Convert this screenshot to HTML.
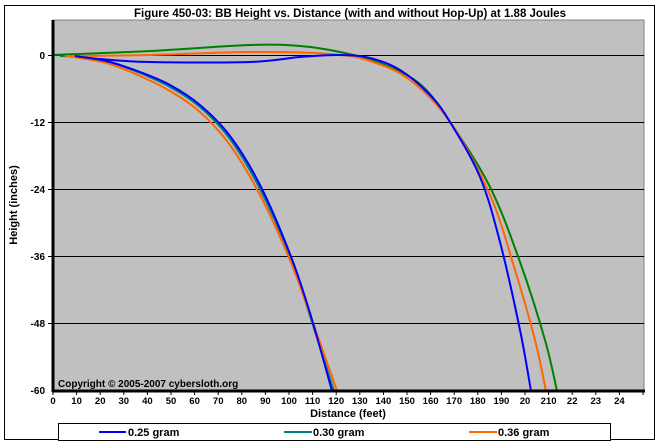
<!DOCTYPE html>
<html><head><meta charset="utf-8"><style>
html,body{margin:0;padding:0;background:#fff;}
svg{display:block;}
text{font-family:"Liberation Sans",sans-serif;font-weight:bold;fill:#000;}
</style></head><body>
<svg id="s" width="658" height="445" viewBox="0 0 658 445" xmlns="http://www.w3.org/2000/svg">
<rect x="4.5" y="5.5" width="650" height="434" fill="#fff" stroke="#000" stroke-width="1"/>
<text x="350" y="17" font-size="11.5" text-anchor="middle">Figure 450-03:  BB Height vs. Distance (with and without Hop-Up) at 1.88 Joules</text>
<rect x="53" y="20" width="591" height="371" fill="#c0c0c0" stroke="#808080" stroke-width="1"/>
<g stroke="#000" stroke-width="1">
<line x1="53" y1="55.5" x2="644" y2="55.5"/>
<line x1="53" y1="122.5" x2="644" y2="122.5"/>
<line x1="53" y1="189.5" x2="644" y2="189.5"/>
<line x1="53" y1="256.5" x2="644" y2="256.5"/>
<line x1="53" y1="323.5" x2="644" y2="323.5"/>
</g>
<g fill="none" stroke-width="2" stroke-linejoin="round">
<path class="c" stroke="#008080" data-p="60,56 80,57 110,62 140,73 170,87 200,107 230,139 260,189 290,256 310,316 334,391"/>
<path class="c" stroke="#ff6600" data-p="65,56 80,58 110,64 140,76 170,91 200,112 230,145 260,195 290,260 312,320 337,391"/>
<path class="c" stroke="#0000ff" data-p="75,56 90,58 110,62 140,72 170,85 200,105 230,136 260,185 290,254 310,313 332,391"/>
<path class="c" stroke="#008000" data-p="53,55 150,51 250,45 300,46 340,52 380,63 420,84 450,122 490,187 520,262 545,340 557,391"/>
<path class="c" stroke="#ff6600" data-p="65,56 150,55 250,52 330,54 370,61 410,80 450,122 490,195 515,270 535,340 546,391"/>
<path class="c" stroke="#0000ff" data-p="75,56 100,59 150,62 250,62 300,57 340,55 370,58 400,70 430,95 450,122 480,177 500,242 520,330 531,391"/>
</g>
<line x1="53" y1="20" x2="53" y2="392" stroke="#000" stroke-width="3"/>
<line x1="52" y1="391" x2="645" y2="391" stroke="#000" stroke-width="3"/>
<g font-size="10" text-anchor="end">
<text x="45" y="59">0</text>
<text x="45" y="126">-12</text>
<text x="45" y="193">-24</text>
<text x="45" y="260">-36</text>
<text x="45" y="327">-48</text>
<text x="45" y="394">-60</text>
</g>
<g stroke="#000" stroke-width="1">
<line x1="48" y1="55.5" x2="53" y2="55.5"/><line x1="48" y1="122.5" x2="53" y2="122.5"/><line x1="48" y1="189.5" x2="53" y2="189.5"/><line x1="48" y1="256.5" x2="53" y2="256.5"/><line x1="48" y1="323.5" x2="53" y2="323.5"/>
</g>
<g id="xt" stroke="#000" stroke-width="1"></g>
<text x="17" y="205" font-size="11" text-anchor="middle" transform="rotate(-90 17 205)">Height (inches)</text>
<text x="348" y="417" font-size="11" text-anchor="middle">Distance (feet)</text>
<text x="58" y="387" font-size="10">Copyright © 2005-2007 cybersloth.org</text>
<rect x="58.5" y="423.5" width="552" height="17" fill="#fff" stroke="#000"/>
<line x1="99" y1="432" x2="126" y2="432" stroke="#0000ff" stroke-width="2"/>
<text x="128" y="436" font-size="11">0.25 gram</text>
<line x1="284" y1="432" x2="312" y2="432" stroke="#008080" stroke-width="2"/>
<text x="313" y="436" font-size="11">0.30 gram</text>
<line x1="469" y1="432" x2="497" y2="432" stroke="#ff6600" stroke-width="2"/>
<text x="498" y="436" font-size="11">0.36 gram</text>
<g font-size="9.5" text-anchor="middle">
<text x="53" y="404">0</text><text x="76.6" y="404">10</text><text x="100.2" y="404">20</text><text x="123.8" y="404">30</text><text x="147.4" y="404">40</text><text x="171" y="404">50</text><text x="194.6" y="404">60</text><text x="218.2" y="404">70</text><text x="241.8" y="404">80</text><text x="265.4" y="404">90</text><text x="289" y="404">100</text><text x="312.6" y="404">110</text><text x="336.2" y="404">120</text><text x="359.8" y="404">130</text><text x="383.4" y="404">140</text><text x="407" y="404">150</text><text x="430.6" y="404">160</text><text x="454.2" y="404">170</text><text x="477.8" y="404">180</text><text x="501.4" y="404">190</text><text x="525" y="404">20</text><text x="548.6" y="404">210</text><text x="572.2" y="404">22</text><text x="595.8" y="404">23</text><text x="619.4" y="404">24</text>
</g>
</svg>
<script>
document.querySelectorAll('path.c').forEach(function(el){
  var p=el.getAttribute('data-p').trim().split(/\s+/).map(function(s){return s.split(',').map(Number);});
  var d='M'+p[0][0]+','+p[0][1];
  for(var i=0;i<p.length-1;i++){
    var p0=p[i-1]||p[i],p1=p[i],p2=p[i+1],p3=p[i+2]||p2;
    var c1x=p1[0]+(p2[0]-p0[0])/6,c1y=p1[1]+(p2[1]-p0[1])/6;
    var c2x=p2[0]-(p3[0]-p1[0])/6,c2y=p2[1]-(p3[1]-p1[1])/6;
    d+=' C'+c1x+','+c1y+' '+c2x+','+c2y+' '+p2[0]+','+p2[1];
  }
  el.setAttribute('d',d);
});
var g=document.getElementById('xt');
for(var i=0;i<=25;i++){var x=53+i*23.6;var l=document.createElementNS('http://www.w3.org/2000/svg','line');
l.setAttribute('x1',x);l.setAttribute('x2',x);l.setAttribute('y1',391);l.setAttribute('y2',395);g.appendChild(l);}
</script>
</body></html>
